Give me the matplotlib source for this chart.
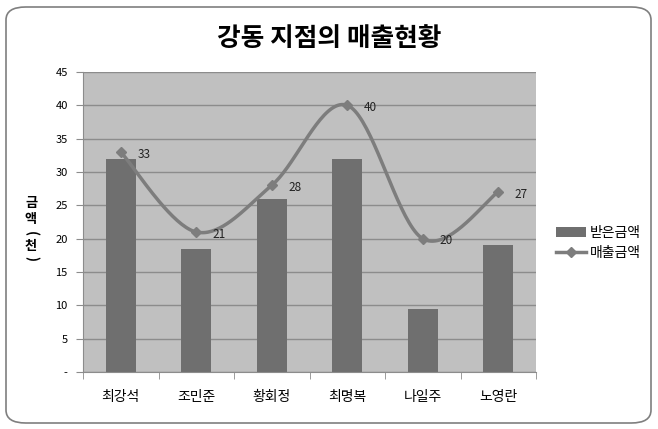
import numpy as np
import matplotlib
matplotlib.use("Agg")
import matplotlib.pyplot as plt
from matplotlib.patches import FancyBboxPatch, Patch
from matplotlib.lines import Line2D

plt.rcParams['font.family'] = ['Noto Sans CJK KR', 'DejaVu Sans']

categories = ['최강석', '조민준', '황회정', '최명복', '나일주', '노영란']
received = [32, 18.5, 26, 32, 9.5, 19]
sales = [33, 21, 28, 40, 20, 27]
yticks = [0, 5, 10, 15, 20, 25, 30, 35, 40, 45]
yticklabels = ['-', '5', '10', '15', '20', '25', '30', '35', '40', '45']

fig = plt.figure(figsize=(6.58, 4.29), dpi=100)
fig.patch.set_facecolor('white')
border = FancyBboxPatch((6/658, 6/429), 645/658, 416/429,
                        boxstyle="round,pad=0,rounding_size=0.03",
                        transform=fig.transFigure, facecolor='none',
                        edgecolor='#7f7f7f', linewidth=1.2, zorder=-10)
fig.patches.append(border)

ax = fig.add_axes([83/658, 57/429, 453/658, 300/429])
ax.set_facecolor('#c0c0c0')
x = np.arange(len(categories))
ax.bar(x, received, width=0.4, color='#6f6f6f', zorder=2)

# Excel-like smoothed line through the data points (Bezier smoothing)
pts = np.column_stack([x.astype(float), np.array(sales, dtype=float)])
ext = np.vstack([pts[0], pts, pts[-1]])
curve = []
t = np.linspace(0, 1, 40)
for i in range(len(pts) - 1):
    p0 = ext[i + 1]
    p3 = ext[i + 2]
    c1 = p0 + (ext[i + 2] - ext[i]) / 6.0
    c2 = p3 - (ext[i + 3] - ext[i + 1]) / 6.0
    seg = ((1 - t) ** 3)[:, None] * p0 + (3 * (1 - t) ** 2 * t)[:, None] * c1 \
        + (3 * (1 - t) * t ** 2)[:, None] * c2 + (t ** 3)[:, None] * p3
    curve.append(seg)
curve = np.vstack(curve)
line_color = '#7d7d7d'
ax.plot(curve[:, 0], curve[:, 1], color=line_color, linewidth=2.5, zorder=3,
        solid_capstyle='round')
ax.plot(x, sales, linestyle='none', marker='D', markersize=5.5,
        color=line_color, zorder=4)
for xi, v in zip(x, sales):
    ax.annotate(str(v), (xi, v), xytext=(12, -1.5), textcoords='offset points',
                va='center', ha='left', fontsize=8.5, color='#222222', zorder=5)

ax.set_xlim(-0.5, len(categories) - 0.5)
ax.set_ylim(0, 45)
ax.set_yticks(yticks)
ax.set_yticklabels(yticklabels, fontsize=8)
ax.yaxis.grid(True, color='#8c8c8c', linewidth=1, zorder=1)
ax.set_axisbelow(True)
ax.set_xticks(x)
ax.set_xticklabels(categories, fontsize=10)
ax.set_xticks(np.arange(-0.5, len(categories)), minor=True)
ax.tick_params(axis='x', which='major', length=0, pad=13)
ax.tick_params(axis='x', which='minor', length=5, color='#8c8c8c')
ax.tick_params(axis='y', length=5, color='#8c8c8c', pad=6)
for s in ['top', 'right']:
    ax.spines[s].set_visible(False)
ax.spines['left'].set_color('#8c8c8c')
ax.spines['bottom'].set_color('#8c8c8c')

fig.text(329/658, 1 - 39/429, '강동 지점의 매출현황', ha='center', va='center',
         fontsize=18.5, fontweight='bold')

ylabel_parts = [('금', 0, 203), ('액', 0, 219), ('(', -90, 233),
                ('천', 0, 246), (')', -90, 259)]
for ch, rot, ypx in ylabel_parts:
    fig.text(31/658, 1 - ypx/429, ch, ha='center', va='center',
             fontsize=9.5, fontweight='bold', rotation=rot)

handles = [Patch(facecolor='#6f6f6f', edgecolor='none', label='받은금액'),
           Line2D([0], [0], color=line_color, linewidth=2.5, marker='D',
                  markersize=5, label='매출금액')]
fig.legend(handles=handles, loc='center left',
           bbox_to_anchor=(543/658, 1 - 243/429), frameon=False,
           fontsize=10, handlelength=2.2, handletextpad=0.3, labelspacing=0.45)

fig.savefig('out.png', dpi=100)
